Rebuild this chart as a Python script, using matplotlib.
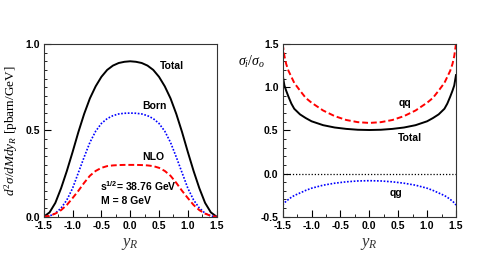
import numpy as np
import matplotlib
matplotlib.use("Agg")
import matplotlib.pyplot as plt
from matplotlib.ticker import MultipleLocator, FormatStrFormatter

plt.rcParams['font.family'] = ['Liberation Sans', 'DejaVu Sans']
plt.rcParams['mathtext.fontset'] = 'custom'
plt.rcParams['mathtext.rm'] = 'Liberation Serif'
plt.rcParams['mathtext.it'] = 'Liberation Serif:italic'
plt.rcParams['mathtext.bf'] = 'Liberation Sans:bold'
plt.rcParams['axes.unicode_minus'] = False

##- left panel : d2sigma/dM dy_R -##
yR_left = [-1.5, -1.4, -1.3, -1.2, -1.1, -1.0, -0.9, -0.8, -0.7, -0.6, -0.5, -0.4, -0.3, -0.2, -0.1, 0.0,
           0.1, 0.2, 0.3, 0.4, 0.5, 0.6, 0.7, 0.8, 0.9, 1.0, 1.1, 1.2, 1.3, 1.4, 1.5]
total_left = [0.0, 0.025, 0.08, 0.165, 0.265, 0.375, 0.49, 0.595, 0.685, 0.755, 0.81, 0.85, 0.875, 0.89, 0.897, 0.90,
              0.897, 0.89, 0.875, 0.85, 0.81, 0.755, 0.685, 0.595, 0.49, 0.375, 0.265, 0.165, 0.08, 0.025, 0.0]
born_left = [0.0, 0.004, 0.02, 0.05, 0.097, 0.165, 0.255, 0.345, 0.43, 0.495, 0.54, 0.568, 0.585, 0.595, 0.599, 0.60,
             0.599, 0.595, 0.585, 0.568, 0.54, 0.495, 0.43, 0.345, 0.255, 0.165, 0.097, 0.05, 0.02, 0.004, 0.0]
nlo_left = [0.0, 0.005, 0.018, 0.038, 0.068, 0.108, 0.15, 0.196, 0.237, 0.265, 0.283, 0.293, 0.297, 0.299, 0.30, 0.30,
            0.30, 0.299, 0.297, 0.293, 0.283, 0.265, 0.237, 0.196, 0.15, 0.108, 0.068, 0.038, 0.018, 0.005, 0.0]

##- right panel : sigma_i/sigma_o -##
yR_right = [-1.5, -1.47, -1.44, -1.4, -1.35, -1.3, -1.2, -1.1, -1.0, -0.8, -0.6, -0.4, -0.2, 0.0,
            0.2, 0.4, 0.6, 0.8, 1.0, 1.1, 1.2, 1.3, 1.35, 1.4, 1.44, 1.47, 1.5]
qq_right = [1.50, 1.36, 1.27, 1.19, 1.12, 1.05, 0.96, 0.875, 0.82, 0.73, 0.665, 0.62, 0.595, 0.586,
            0.595, 0.62, 0.665, 0.73, 0.82, 0.875, 0.96, 1.05, 1.12, 1.19, 1.27, 1.36, 1.50]
total_right = [1.14, 1.02, 0.96, 0.89, 0.81, 0.75, 0.685, 0.642, 0.605, 0.56, 0.533, 0.517, 0.507, 0.504,
               0.507, 0.517, 0.533, 0.56, 0.605, 0.642, 0.685, 0.75, 0.81, 0.89, 0.96, 1.02, 1.14]
qg_right = [-0.365, -0.34, -0.32, -0.30, -0.275, -0.255, -0.225, -0.195, -0.17, -0.135, -0.112, -0.096, -0.086, -0.083,
            -0.086, -0.096, -0.112, -0.135, -0.17, -0.195, -0.225, -0.255, -0.275, -0.30, -0.32, -0.34, -0.365]

fig = plt.figure(figsize=(4.99, 2.61), dpi=100)
ax1 = fig.add_axes([0.0878, 0.1697, 0.3463, 0.6617])
ax2 = fig.add_axes([0.5665, 0.1697, 0.3473, 0.6617])

ax1.plot(yR_left, total_left, color='black', lw=1.4)
ax1.plot(yR_left, born_left, color='blue', lw=1.2, ls=(0, (1, 1)))
ax1.plot(yR_left, nlo_left, color='red', lw=1.4, ls=(0, (3, 1.5)))
ax1.set_xlim(-1.5, 1.5)
ax1.set_ylim(0, 1.0)
ax1.yaxis.set_major_locator(MultipleLocator(0.5))
ax1.yaxis.set_minor_locator(MultipleLocator(0.05))

ax2.axhline(0, color='black', lw=0.9, ls=(0, (1, 1.5)))
ax2.plot(yR_right, qq_right, color='red', lw=1.4, ls=(0, (3, 1.5)))
ax2.plot(yR_right, total_right, color='black', lw=1.4)
ax2.plot(yR_right, qg_right, color='blue', lw=1.2, ls=(0, (1, 1)))
ax2.set_xlim(-1.5, 1.5)
ax2.set_ylim(-0.5, 1.5)
ax2.yaxis.set_major_locator(MultipleLocator(0.5))
ax2.yaxis.set_minor_locator(MultipleLocator(0.1))

for ax in (ax1, ax2):
    ax.xaxis.set_major_locator(MultipleLocator(0.5))
    ax.xaxis.set_minor_locator(MultipleLocator(0.25))
    ax.xaxis.set_major_formatter(FormatStrFormatter('%.1f'))
    ax.yaxis.set_major_formatter(FormatStrFormatter('%.1f'))
    ax.tick_params(which='both', direction='in', top=False, right=False)
    ax.tick_params(which='major', length=5, width=0.8, labelsize=7.5, pad=3)
    ax.tick_params(which='minor', length=2.5, width=0.6)
    for lab in ax.get_xticklabels() + ax.get_yticklabels():
        lab.set_fontweight('bold')
    for sp in ax.spines.values():
        sp.set_linewidth(0.8)
        sp.set_color('#333333')
    ax.set_xlabel(r'$y_R$', fontsize=12, labelpad=4, color='#333333')

ax1.set_ylabel(r'$d^2\sigma/dMdy_R\ [\mathrm{pbarn/GeV}]$', fontsize=9.5, labelpad=4)

bold = dict(fontsize=7.5, fontweight='bold')
ax1.text(0.72, 0.874, 'Total', ha='center', va='center', **bold)
ax1.text(0.415, 0.643, 'Born', ha='center', va='center', **bold)
ax1.text(0.40, 0.343, 'NLO', ha='center', va='center', **bold)
ax1.text(-0.52, 0.175, r'$\mathbf{s^{1/2}}$= 38.76 GeV', ha='left', va='center', **bold)
ax1.text(-0.50, 0.09, 'M = 8 GeV', ha='left', va='center', **bold)

ax2.text(0.617, 0.82, 'qq', ha='center', va='center', **bold)
ax2.text(0.70, 0.417, 'Total', ha='center', va='center', **bold)
ax2.text(0.47, -0.226, 'qg', ha='center', va='center', **bold)

fig.text(238 / 499, 1 - 62 / 261, r'$\sigma_i/\sigma_o$', fontsize=10, ha='left', va='center')

fig.savefig('out.png', dpi=100)
